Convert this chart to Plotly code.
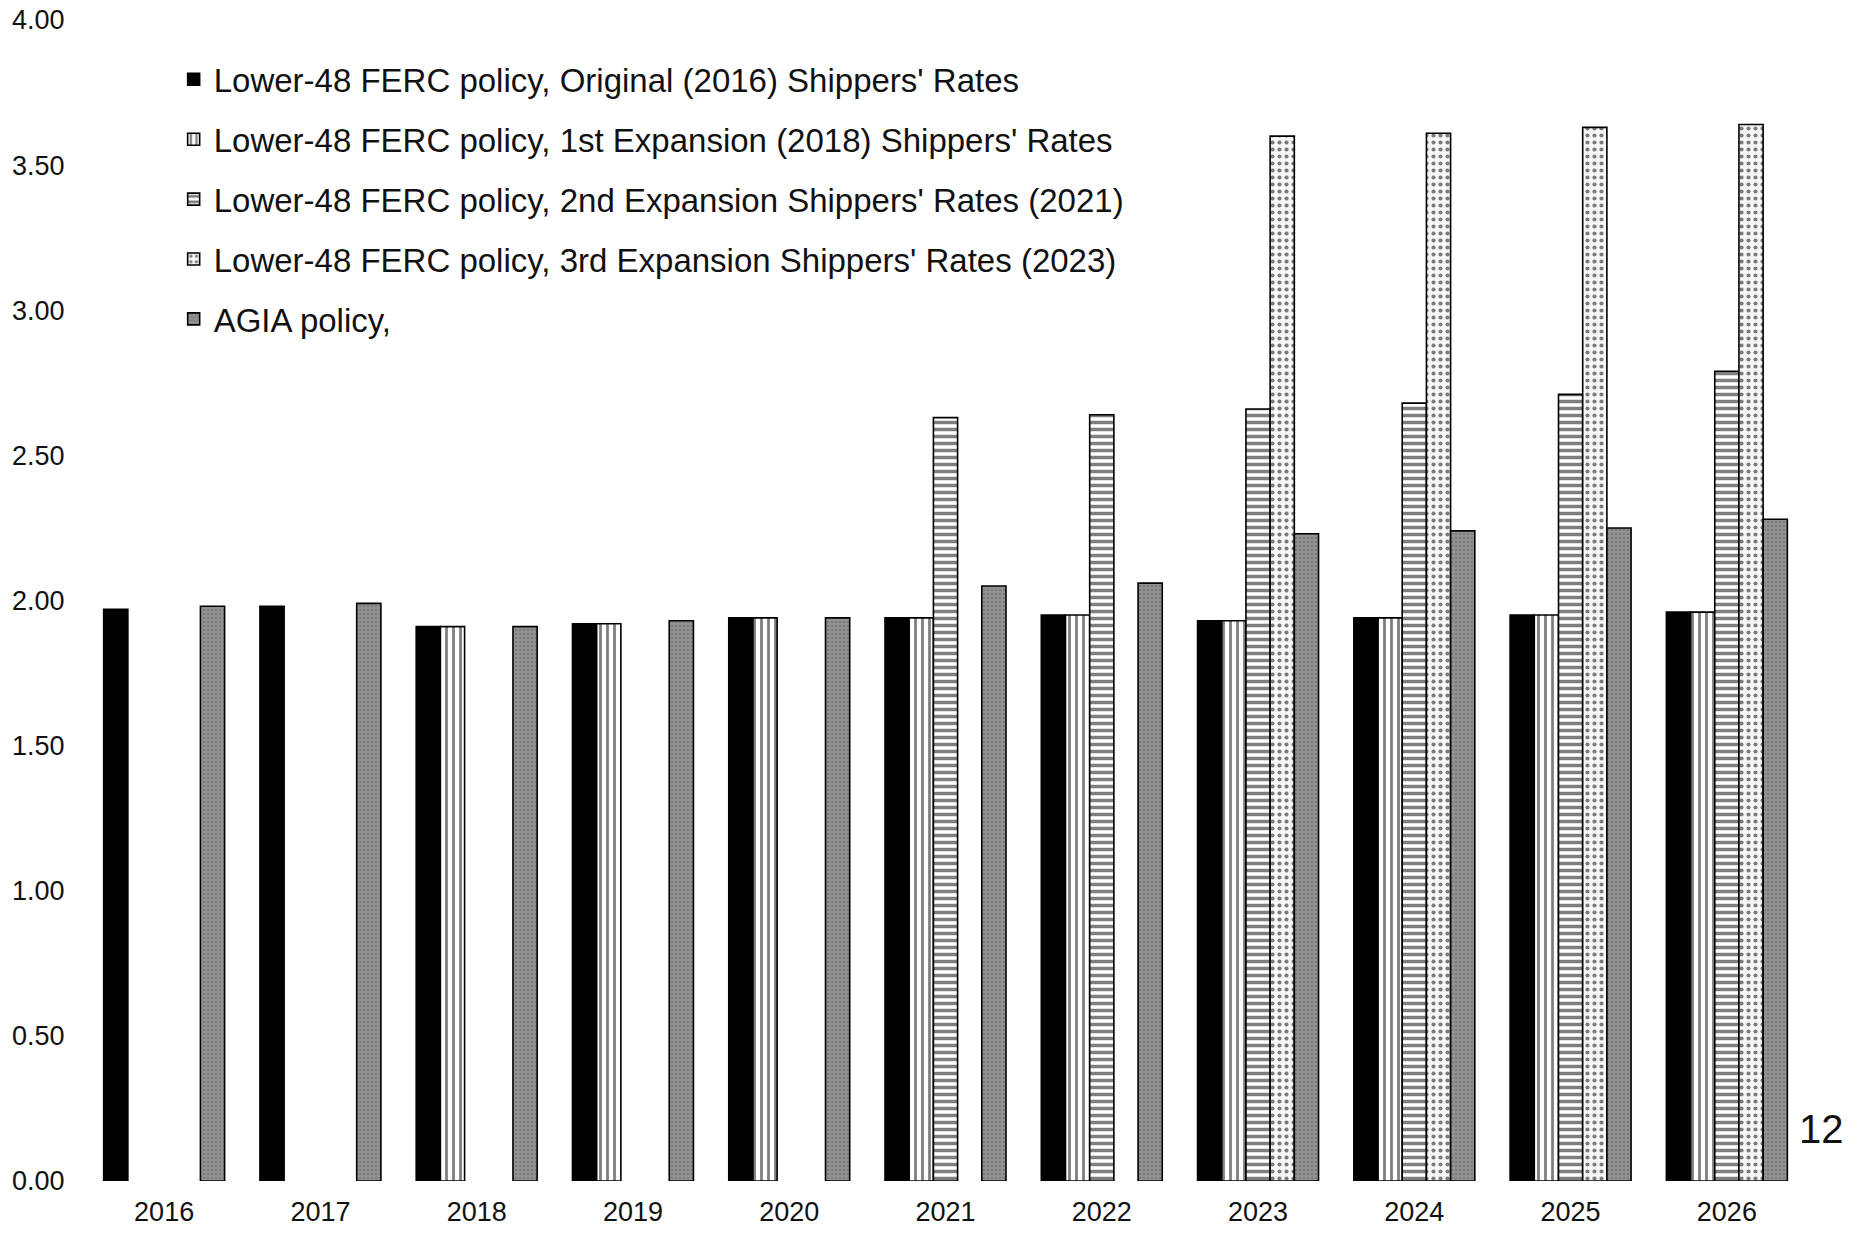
import plotly.graph_objects as go

years = ["2016", "2017", "2018", "2019", "2020", "2021", "2022", "2023", "2024", "2025", "2026"]
original = [1.97, 1.98, 1.91, 1.92, 1.94, 1.94, 1.95, 1.93, 1.94, 1.95, 1.96]
first_exp = [None, None, 1.91, 1.92, 1.94, 1.94, 1.95, 1.93, 1.94, 1.95, 1.96]
second_exp = [None, None, None, None, None, 2.63, 2.64, 2.66, 2.68, 2.71, 2.79]
third_exp = [None, None, None, None, None, None, None, 3.60, 3.61, 3.63, 3.64]
agia = [1.98, 1.99, 1.91, 1.93, 1.94, 2.05, 2.06, 2.23, 2.24, 2.25, 2.28]

names = [
    "Lower-48 FERC policy, Original (2016) Shippers' Rates",
    "Lower-48 FERC policy, 1st Expansion (2018) Shippers' Rates",
    "Lower-48 FERC policy, 2nd Expansion Shippers' Rates (2021)",
    "Lower-48 FERC policy, 3rd Expansion Shippers' Rates (2023)",
    "AGIA policy,",
]
yticks = [0, 0.5, 1.0, 1.5, 2.0, 2.5, 3.0, 3.5, 4.0]
ytick_text = ["0.00", "0.50", "1.00", "1.50", "2.00", "2.50", "3.00", "3.50", "4.00"]

styles = [
    dict(color="#000000"),
    dict(color="#ffffff", pattern=dict(shape="|", fgcolor="#000000", bgcolor="#ffffff", size=7, solidity=0.4)),
    dict(color="#ffffff", pattern=dict(shape="-", fgcolor="#000000", bgcolor="#ffffff", size=7, solidity=0.5)),
    dict(color="#ffffff", pattern=dict(shape=".", fgcolor="#000000", bgcolor="#f6f6f6", size=7, solidity=0.28)),
    dict(color="#8a8a8a", pattern=dict(shape=".", fgcolor="#666666", bgcolor="#939393", size=4, solidity=0.35)),
]

fig = go.Figure()
for i, (nm, vals, st) in enumerate(zip(names, [original, first_exp, second_exp, third_exp, agia], styles)):
    marker = dict(color=st["color"], line=dict(color="#000000", width=1.6))
    if "pattern" in st:
        marker["pattern"] = st["pattern"]
    fig.add_trace(go.Bar(x=years, y=vals, name=nm, marker=marker, legendgroup=f"g{i}"))

font_family = "Arial, Liberation Sans, sans-serif"
fig.update_layout(
    width=1853, height=1235,
    margin=dict(l=86, r=48, t=20, b=54, autoexpand=False),
    paper_bgcolor="white", plot_bgcolor="white",
    barmode="group", bargap=0.226, bargroupgap=0,
    font=dict(family=font_family, color="#111111", size=27),
    showlegend=True,
    legend=dict(x=0.051, y=0.973, xanchor="left", yanchor="top",
                font=dict(size=33, family=font_family, color="#111111"),
                tracegroupgap=14, itemwidth=30, bgcolor="rgba(0,0,0,0)"),
    xaxis=dict(showgrid=False, showline=False, zeroline=False, ticks="outside", automargin=False,
               ticklen=7, tickcolor="rgba(0,0,0,0)", tickfont=dict(size=27)),
    yaxis=dict(range=[0, 4], tickvals=yticks, ticktext=ytick_text, showgrid=False, automargin=False,
               showline=False, zeroline=False, ticks="outside", ticklen=15,
               tickcolor="rgba(0,0,0,0)", tickfont=dict(size=27)),
)
fig.add_annotation(text="12", xref="paper", yref="paper", x=1.0, y=0.045,
                   xanchor="left", yanchor="middle", showarrow=False,
                   font=dict(size=40, family=font_family, color="#111111"), xshift=-8)

fig.write_html("out.html")
